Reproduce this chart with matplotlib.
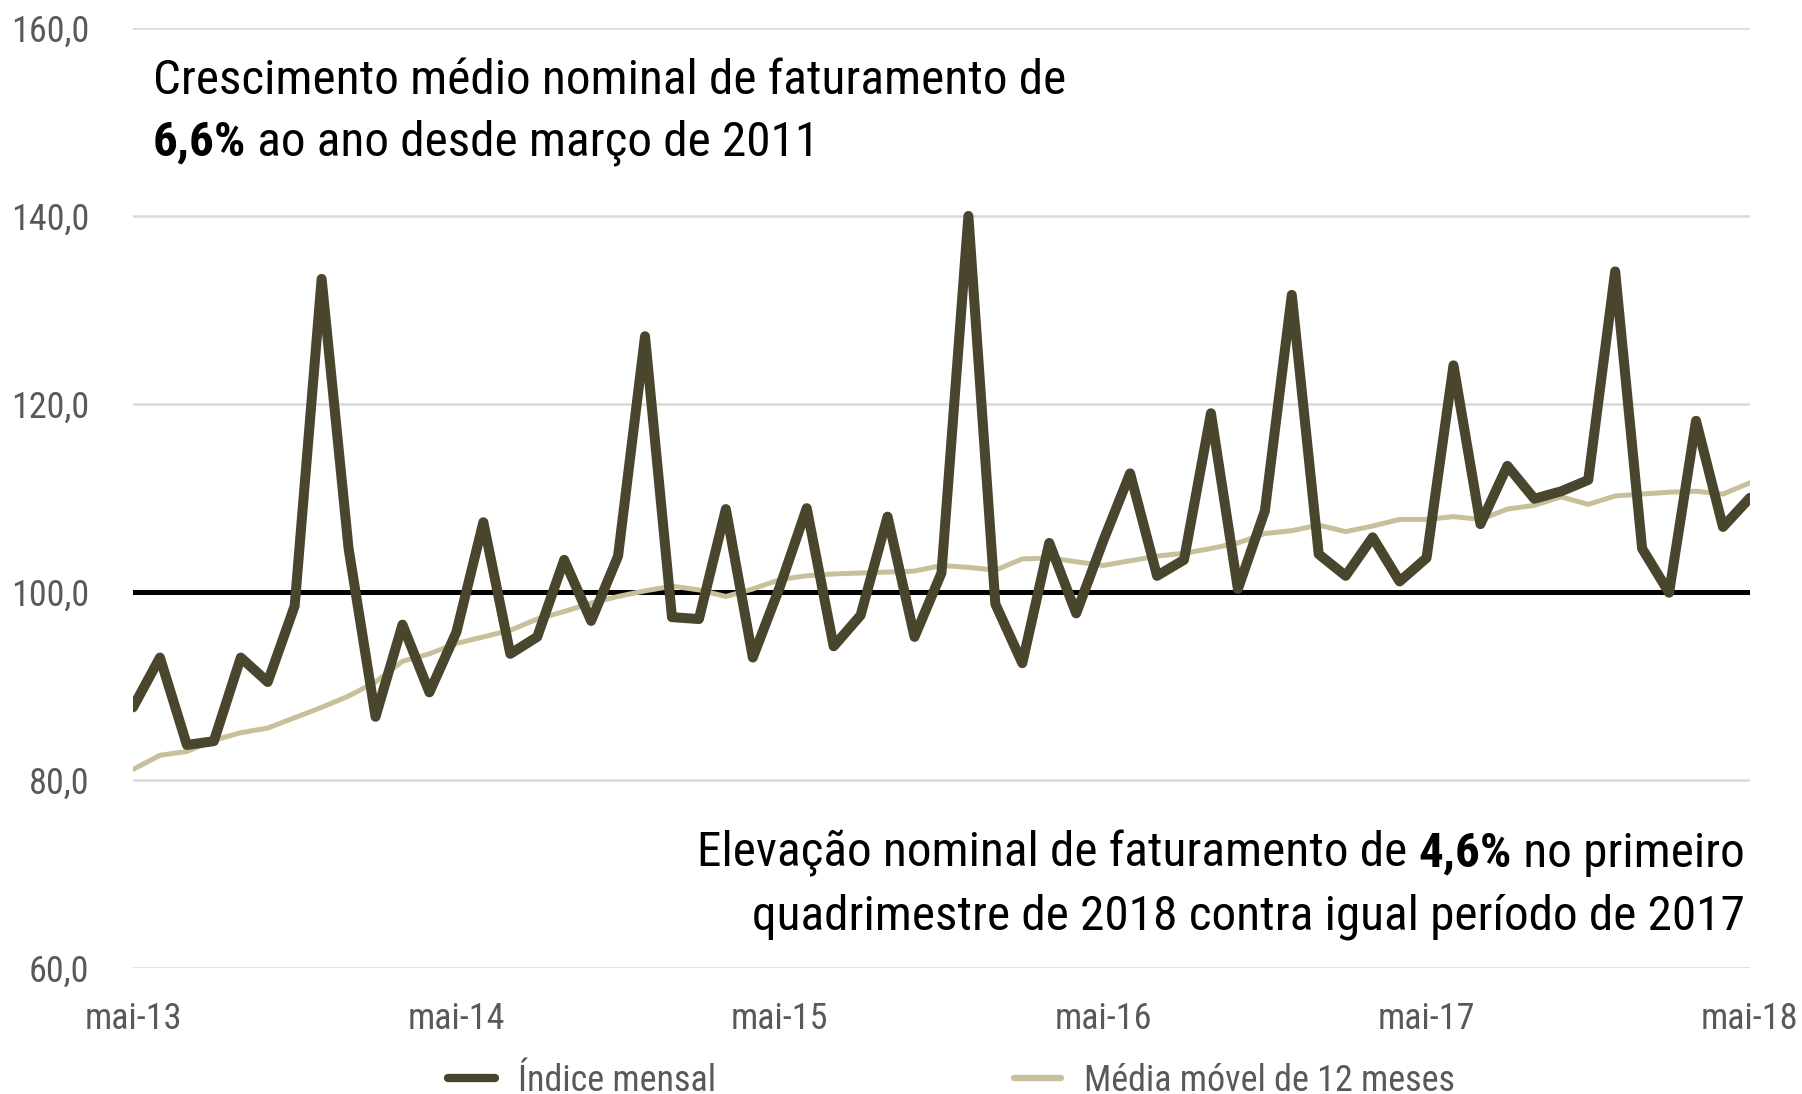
import numpy as np
import matplotlib
matplotlib.use('Agg')
import matplotlib.pyplot as plt
from matplotlib.offsetbox import TextArea, HPacker, VPacker, AnchoredOffsetbox

plt.rcParams['font.family'] = ['Roboto Condensed', 'DejaVu Sans']

'''
monthly index, mai-13 .. mai-18
'''
indice_mensal = [87.7, 93.0, 83.7, 84.1, 93.0, 90.4, 98.5, 133.3, 104.6, 86.7,
                 96.5, 89.3, 95.7, 107.4, 93.4, 95.2, 103.4, 96.9, 103.8, 127.2,
                 97.3, 97.1, 108.8, 93.0, 100.5, 108.9, 94.2, 97.5, 108.0, 95.2,
                 102.0, 140.0, 98.7, 92.4, 105.2, 97.7, 105.4, 112.6, 101.7, 103.4,
                 119.0, 100.3, 108.6, 131.6, 104.0, 101.7, 105.8, 101.1, 103.6, 124.1,
                 107.2, 113.4, 109.9, 110.7, 111.9, 134.1, 104.6, 99.9, 118.2, 106.9, 110.0]
media_movel = [81.1, 82.6, 83.0, 84.2, 85.0, 85.5, 86.6, 87.7, 88.9, 90.4,
               92.6, 93.4, 94.5, 95.2, 95.9, 97.1, 97.9, 98.8, 99.5, 100.1,
               100.6, 100.2, 99.5, 100.3, 101.3, 101.7, 101.9, 102.0, 102.1, 102.2,
               102.8, 102.6, 102.3, 103.5, 103.6, 103.2, 102.8, 103.3, 103.8, 104.1,
               104.6, 105.2, 106.2, 106.5, 107.1, 106.4, 107.0, 107.7, 107.7, 108.0,
               107.7, 108.8, 109.2, 110.1, 109.3, 110.2, 110.4, 110.6, 110.7, 110.4, 111.6]
x_labels = ['mai-13', 'mai-14', 'mai-15', 'mai-16', 'mai-17', 'mai-18']
y_ticks = [60, 80, 100, 120, 140, 160]
y_labels = ['60,0', '80,0', '100,0', '120,0', '140,0', '160,0']

dark = '#4A452D'
light = '#C8C09B'
gray = '#595959'

fig = plt.figure(figsize=(18.02, 10.94), dpi=100)
ax = fig.add_axes([0.0738, 0.1155, 0.8973, 0.8589])

x = np.arange(len(indice_mensal))
ax.axhline(100, color='black', linewidth=3.6, zorder=1)
l1, = ax.plot(x, indice_mensal, color=dark, linewidth=7.2, solid_joinstyle='round',
              solid_capstyle='round', label='Índice mensal', zorder=3)
l2, = ax.plot(x, media_movel, color=light, linewidth=3.6, solid_joinstyle='round',
              label='Média móvel de 12 meses', zorder=2)

ax.set_xlim(0, 60)
ax.set_ylim(60, 160)
ax.set_yticks(y_ticks)
ax.set_yticklabels(y_labels)
ax.set_xticks(np.arange(0, 61, 12))
ax.set_xticklabels(x_labels)
ax.tick_params(length=0, labelsize=26, labelcolor=gray)
ax.tick_params(axis='y', pad=31.5)
ax.tick_params(axis='x', pad=24)
ax.grid(axis='y', color='#D9D9D9', linewidth=1.8)
ax.set_axisbelow(True)
for s in ax.spines.values():
    s.set_visible(False)

'''
annotations with bold parts
'''
fs = 35.5
def line(parts):
    boxes = [TextArea(t, textprops=dict(fontsize=fs, color='black',
                                        fontweight='bold' if b else 'normal'))
             for t, b in parts]
    return HPacker(children=boxes, pad=0, sep=0, align='baseline')

top = VPacker(children=[line([('Crescimento médio nominal de faturamento de', False)]),
                        line([('6,6%', True), (' ao ano desde março de 2011', False)])],
              pad=0, sep=11.5, align='left')
fig.add_artist(AnchoredOffsetbox(loc='upper left', child=top, pad=0, borderpad=0,
                                 frameon=False, bbox_to_anchor=(153 / 1802, 1 - 58 / 1094),
                                 bbox_transform=fig.transFigure))

bot = VPacker(children=[line([('Elevação nominal de faturamento de ', False), ('4,6%', True),
                              (' no primeiro', False)]),
                        line([('quadrimestre de 2018 contra igual período de 2017', False)])],
              pad=0, sep=11.5, align='right')
fig.add_artist(AnchoredOffsetbox(loc='upper right', child=bot, pad=0, borderpad=0,
                                 frameon=False, bbox_to_anchor=(1745 / 1802, 1 - 830 / 1094),
                                 bbox_transform=fig.transFigure))

'''
legend, one entry each so both keep their place
'''
for h, x0 in [(l1, 448), (l2, 1014)]:
    leg = fig.legend(handles=[h], loc='center left', bbox_to_anchor=(x0 / 1802, 1 - 1081 / 1094),
                     frameon=False, fontsize=26, handlelength=1.3, handletextpad=0.64,
                     borderpad=0, borderaxespad=0)
    leg.get_texts()[0].set_color(gray)
    lh = leg.legend_handles[0]
    lh.set_linewidth(6 if h is l1 else 4.5)
    lh.set_solid_capstyle('round')

fig.savefig('out.png', dpi=100)
